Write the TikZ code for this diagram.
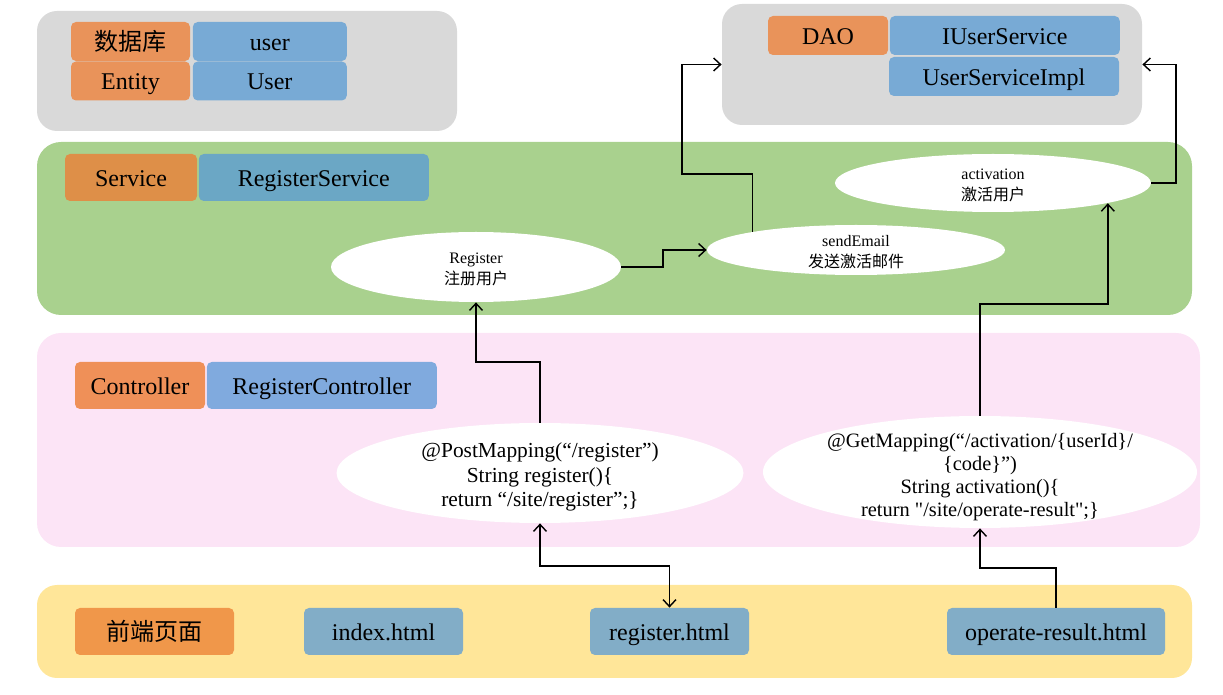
\documentclass[tikz,border=0pt]{standalone}
\usepackage{fontspec}
\setmainfont{Liberation Serif}
\newfontfamily\cjk{Noto Sans CJK SC}
\usepackage{xcolor}
\usepackage{tikz}
\usetikzlibrary{arrows.meta,calc,positioning,shapes.geometric}

\definecolor{layergray}{HTML}{D9D9D9}
\definecolor{svcgreen}{HTML}{A9D18E}
\definecolor{ctrlpink}{HTML}{FCE4F6}
\definecolor{viewyellow}{HTML}{FFE699}
\definecolor{tagorange}{HTML}{E9935A}
\definecolor{svcorange}{HTML}{DE8F48}
\definecolor{ctrlorange}{HTML}{EF9058}
\definecolor{vieworange}{HTML}{F0974A}
\definecolor{clsblue}{HTML}{78AAD5}
\definecolor{svcblue}{HTML}{6BA7C5}
\definecolor{ctrlblue}{HTML}{80AADE}
\definecolor{viewblue}{HTML}{82ADC7}

\begin{document}
\begin{tikzpicture}[
    x=0.5pt, y=-0.5pt,
    >={Straight Barb[length=3.5pt,width=6.5pt]},
    layer/.style={rounded corners=10pt,inner sep=0pt},
    tag/.style={rounded corners=2.5pt,inner sep=0pt,minimum height=19.5pt,
        text height=9.6pt,text depth=1pt,font=\fontsize{12}{13}\selectfont},
    cls/.style={tag,fill=clsblue},
    func/.style={ellipse,fill=white,inner sep=0pt},
    note/.style={font=\fontsize{8}{10.5}\selectfont,align=center,yshift=-1pt},
    code/.style={font=\fontsize{10.7}{12.3}\selectfont,align=center,yshift=-2pt},
    link/.style={line width=0.7pt,->}
]
\path[use as bounding box] (0,0) rectangle (1223,695);

% --- Layers ---
\node[layer,fill=layergray,minimum width=210pt,minimum height=60pt] (dbgrp) at (247,71) {};
\node[layer,fill=layergray,minimum width=210pt,minimum height=60.5pt] (daogrp) at (932,64.5) {};
\node[layer,fill=svcgreen,rounded corners=12pt,minimum width=577.5pt,minimum height=86.5pt] (svcgrp) at (614.5,228.5) {};
\node[layer,fill=ctrlpink,rounded corners=12pt,minimum width=581.5pt,minimum height=107pt] (ctrlgrp) at (618.5,440) {};
\node[layer,fill=viewyellow,minimum width=577.5pt,minimum height=46.5pt] (viewgrp) at (614.5,631.5) {};

% --- Database / entity ---
\node[tag,fill=tagorange,minimum width=59.5pt] (db) at (130.5,41.5) {\cjk 数据库};
\node[cls,minimum width=77pt,right=1pt of db] (table) {user};
\node[tag,fill=tagorange,minimum width=59.5pt] (entity) at (130.5,81) {Entity};
\node[cls,minimum width=77pt,right=1pt of entity] (user) {User};

% --- DAO ---
\node[tag,fill=tagorange,minimum width=60pt] (dao) at (828,35.5) {DAO};
\node[cls,minimum width=115pt,right=0.5pt of dao] (iuser) {IUserService};
\node[cls,minimum width=115pt] (userimpl) at (1004,76.5) {UserServiceImpl};

% --- Service ---
\node[tag,fill=svcorange,minimum width=66pt,minimum height=23.5pt] (svc) at (131,177.5) {Service};
\node[tag,fill=svcblue,minimum width=115pt,minimum height=23.5pt,right=0.5pt of svc] (regsvc) {RegisterService};

\node[func,minimum width=145pt,minimum height=35pt,
    label={[note]center:{Register\\{\cjk 注册用户}}}] (reg) at (476,267) {};
\node[func,minimum width=149pt,minimum height=25pt,
    label={[note]center:{sendEmail\\{\cjk 发送激活邮件}}}] (send) at (856,250) {};
\node[func,minimum width=158pt,minimum height=29pt,
    label={[note]center:{activation\\{\cjk 激活用户}}}] (act) at (993,183) {};

% --- Controller ---
\node[tag,fill=ctrlorange,minimum width=65pt,minimum height=23.5pt] (ctrl) at (140,385.5) {Controller};
\node[tag,fill=ctrlblue,minimum width=115pt,minimum height=23.5pt,right=0.5pt of ctrl] (regctrl) {RegisterController};

\node[func,minimum width=203.5pt,minimum height=50pt,
    label={[code]center:{@PostMapping(“/register”)\\String register()\{\\return “/site/register”;\}}}] (post) at (540,473) {};
\node[func,minimum width=217pt,minimum height=56pt,
    label={[code,font=\fontsize{10.2}{11.4}\selectfont,yshift=-0.5pt]center:{@GetMapping(“/activation/\{userId\}/\\\{code\}”)\\String activation()\{\\return \textquotedbl/site/operate-result\textquotedbl;\}}}] (get) at (980,472) {};

% --- Front-end pages ---
\node[tag,fill=vieworange,minimum width=79.5pt,minimum height=23.5pt] (view) at (154.5,631.5) {\cjk 前端页面};
\node[tag,fill=viewblue,minimum width=79.5pt,minimum height=23.5pt] (index) at (383.5,631.5) {index.html};
\node[tag,fill=viewblue,minimum width=79.5pt,minimum height=23.5pt] (regpage) at (669.5,631.5) {register.html};
\node[tag,fill=viewblue,minimum width=109pt,minimum height=23.5pt] (oppage) at (1056,631.5) {operate-result.html};

% --- Calls ---
\draw[link] (reg.east) -- (reg.east -| 663,0) |- (send.west);
\draw[link] (send.170.4) |- (682,174) |- (daogrp.west);
\draw[link] (act.east) -- (act.east -| 1176,0) |- (daogrp.east);
\draw[link] (post.north) -- (post.north |- 0,362) -| (reg.south);
\draw[link] (get.north) -- (get.north |- 0,304) -| (act.-10.4);
\draw[link,<->] (post.south) -- (post.south |- 0,566) -| (regpage.north);
\draw[link] (oppage.north) -- (oppage.north |- 0,568) -| (get.south);
\end{tikzpicture}
\end{document}
